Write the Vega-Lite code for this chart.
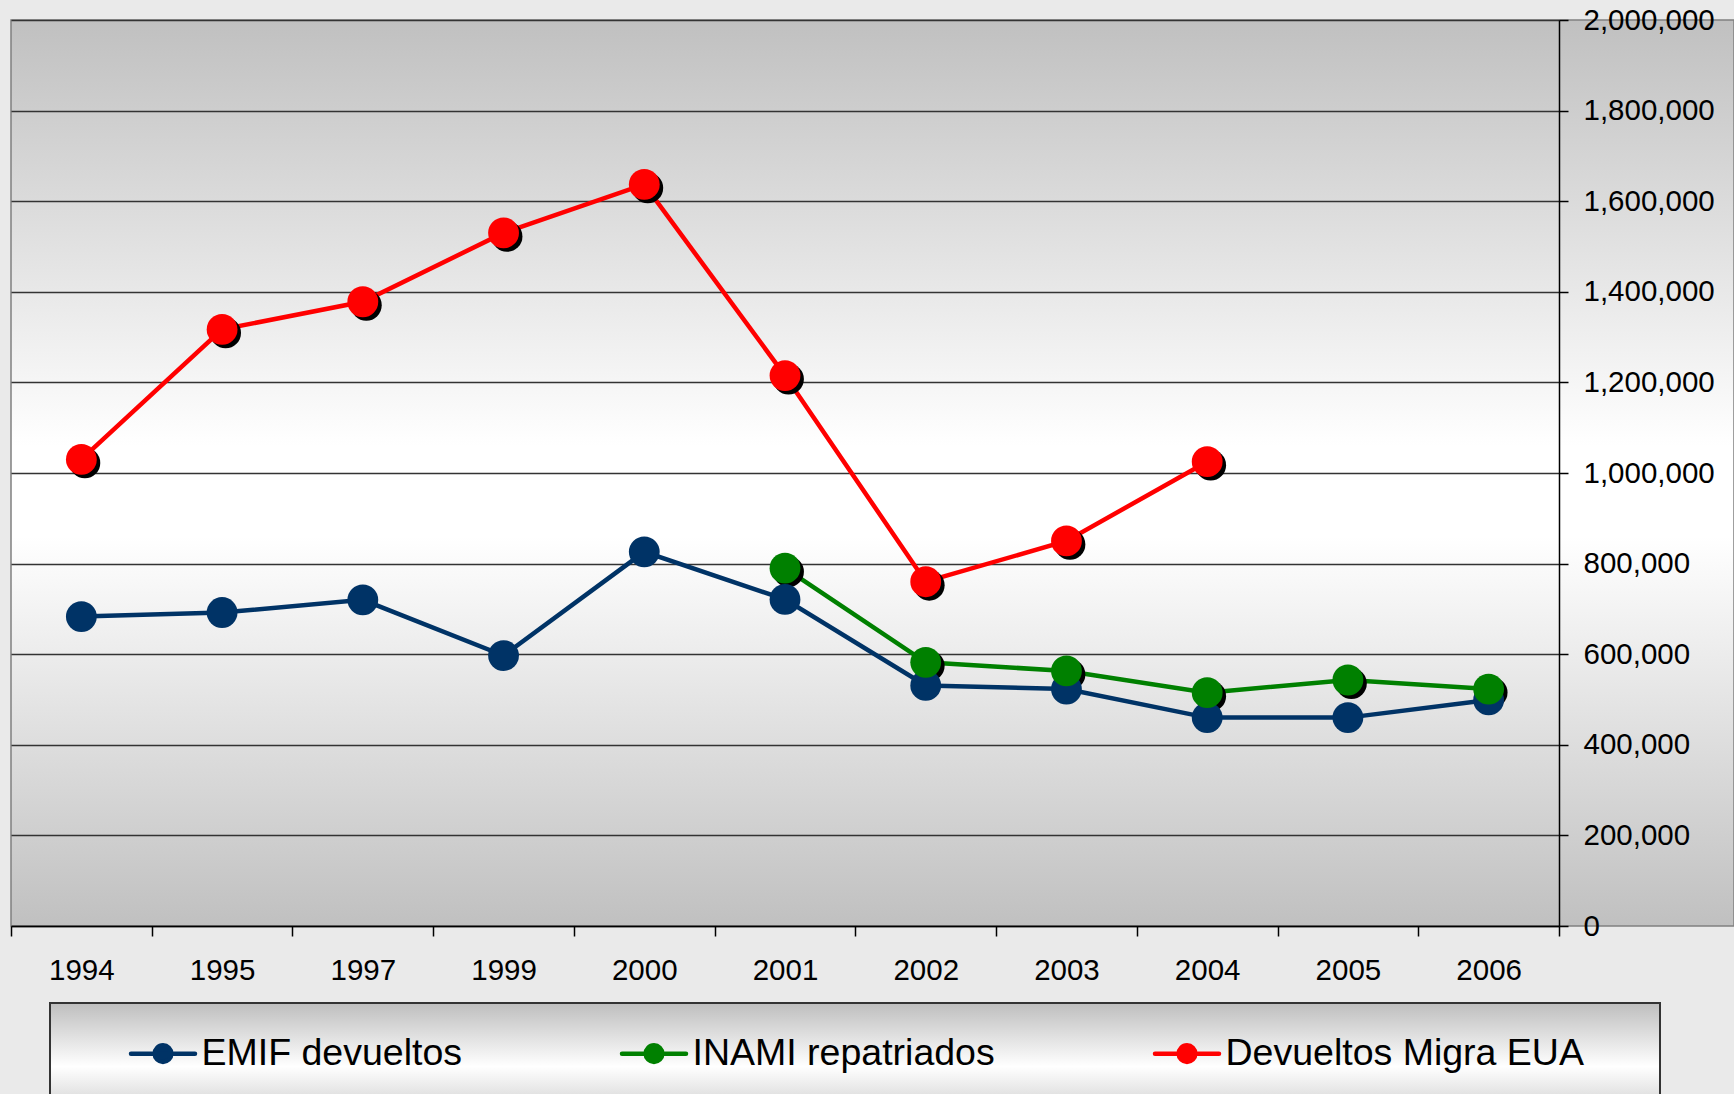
{
  "$schema": "https://vega.github.io/schema/vega-lite/v6.json",
  "width": 1723,
  "height": 906,
  "autosize": {"type": "none"},
  "padding": {"left": 11, "top": 20, "right": 0, "bottom": 168},
  "background": "#EAEAEA",
  "config": {
    "font": "Liberation Sans",
    "view": {
      "fill": {"gradient": "linear", "x1": 0, "y1": 0, "x2": 0, "y2": 1,
        "stops": [{"offset": 0, "color": "#C0C0C0"}, {"offset": 0.47, "color": "#FFFFFF"}, {"offset": 0.57, "color": "#FFFFFF"}, {"offset": 1, "color": "#C0C0C0"}]},
      "stroke": "#808080",
      "strokeWidth": 1.5
    }
  },
  "data": {"values": [
    {"year": "1994", "series": "EMIF devueltos", "value": 683000},
    {"year": "1995", "series": "EMIF devueltos", "value": 692000},
    {"year": "1997", "series": "EMIF devueltos", "value": 720000},
    {"year": "1999", "series": "EMIF devueltos", "value": 597000},
    {"year": "2000", "series": "EMIF devueltos", "value": 826000},
    {"year": "2001", "series": "EMIF devueltos", "value": 721000},
    {"year": "2002", "series": "EMIF devueltos", "value": 531000},
    {"year": "2003", "series": "EMIF devueltos", "value": 523000},
    {"year": "2004", "series": "EMIF devueltos", "value": 460000},
    {"year": "2005", "series": "EMIF devueltos", "value": 460000},
    {"year": "2006", "series": "EMIF devueltos", "value": 499000},
    {"year": "2001", "series": "INAMI repatriados", "value": 790000},
    {"year": "2002", "series": "INAMI repatriados", "value": 582000},
    {"year": "2003", "series": "INAMI repatriados", "value": 563000},
    {"year": "2004", "series": "INAMI repatriados", "value": 515000},
    {"year": "2005", "series": "INAMI repatriados", "value": 543000},
    {"year": "2006", "series": "INAMI repatriados", "value": 523000},
    {"year": "1994", "series": "Devueltos Migra EUA", "value": 1030000},
    {"year": "1995", "series": "Devueltos Migra EUA", "value": 1317000},
    {"year": "1997", "series": "Devueltos Migra EUA", "value": 1378000},
    {"year": "1999", "series": "Devueltos Migra EUA", "value": 1530000},
    {"year": "2000", "series": "Devueltos Migra EUA", "value": 1637000},
    {"year": "2001", "series": "Devueltos Migra EUA", "value": 1215000},
    {"year": "2002", "series": "Devueltos Migra EUA", "value": 760000},
    {"year": "2003", "series": "Devueltos Migra EUA", "value": 850000},
    {"year": "2004", "series": "Devueltos Migra EUA", "value": 1025000}
  ]},
  "encoding": {
    "x": {
      "field": "year", "type": "ordinal",
      "scale": {"type": "band", "range": [0, 1548], "paddingInner": 0, "paddingOuter": 0},
      "axis": {
        "title": null, "grid": false, "tickBand": "extent", "labelAngle": 0,
        "domainColor": "#000000", "domainWidth": 1.5,
        "tickColor": "#000000", "tickWidth": 1.5, "tickSize": 10,
        "labelFont": "Liberation Sans", "labelFontSize": 29.5, "labelColor": "#000000", "labelPadding": 20
      }
    }
  },
  "layer": [
    {
      "mark": {"type": "line", "strokeWidth": 4.5},
      "encoding": {
        "y": {
          "field": "value", "type": "quantitative",
          "scale": {"domain": [0, 2000000], "nice": false},
          "axis": {
            "orient": "left", "title": null, "grid": true, "labels": false, "ticks": false, "domain": false,
            "values": [0, 200000, 400000, 600000, 800000, 1000000, 1200000, 1400000, 1600000, 1800000, 2000000],
            "gridColor": "#333333", "gridWidth": 1.5
          }
        },
        "color": {
          "field": "series", "type": "nominal",
          "scale": {"domain": ["EMIF devueltos", "INAMI repatriados", "Devueltos Migra EUA"], "range": ["#003366", "#008000", "#FF0000"]},
          "legend": {
            "orient": "none", "legendX": 39, "legendY": 983, "direction": "horizontal",
            "title": " ", "titleOrient": "left", "titleFontSize": 1, "titlePadding": 62.5,
            "padding": 16, "columnPadding": 150,
            "labelFont": "Liberation Sans", "labelFontSize": 37.5, "labelColor": "#000000", "labelOffset": 4, "labelLimit": 1000,
            "symbolType": "M-1,0L1,0M0.26,0A0.26,0.26,0,1,1,-0.26,0A0.26,0.26,0,1,1,0.26,0Z",
            "symbolSize": 4096, "symbolStrokeWidth": 4.5,
            "strokeColor": "#333333",
            "encode": {
              "symbols": {"update": {
                "fill": {"scale": "color", "field": "value"},
                "stroke": {"scale": "color", "field": "value"},
                "strokeCap": {"value": "round"},
                "opacity": {"value": 1},
                "shape": {"signal": "datum.value === 'Devueltos Migra EUA' ? 'M-1,0L1,0M0.26,0A0.26,0.26,0,1,1,-0.26,0A0.26,0.26,0,1,1,0.26,0ZM14,0M0,1.6' : 'M-1,0L1,0M0.26,0A0.26,0.26,0,1,1,-0.26,0A0.26,0.26,0,1,1,0.26,0ZM0,1.6'"}
              }},
              "legend": {"update": {"fill": {"value": {"gradient": "linear", "x1": 0, "y1": 0, "x2": 0, "y2": 1, "stops": [{"offset": 0, "color": "#BEBEBE"}, {"offset": 0.5, "color": "#FFFFFF"}, {"offset": 1, "color": "#BEBEBE"}]}}, "stroke": {"value": "#333333"}, "strokeWidth": {"value": 2}}}
            }
          }
        }
      }
    },
    {
      "transform": [{"filter": "datum.series !== 'EMIF devueltos'"}],
      "mark": {"type": "point", "filled": true, "size": 950, "color": "#000000", "opacity": 1, "xOffset": 3.5, "yOffset": 3.5},
      "encoding": {
        "y": {"field": "value", "type": "quantitative", "scale": {"domain": [0, 2000000], "nice": false}, "axis": null},
        "detail": {"field": "series", "type": "nominal"}
      }
    },
    {
      "mark": {"type": "point", "filled": true, "size": 950, "opacity": 1},
      "encoding": {
        "y": {
          "field": "value", "type": "quantitative",
          "scale": {"domain": [0, 2000000], "nice": false},
          "axis": {
            "orient": "right", "offset": -175, "title": null, "grid": false,
            "values": [0, 200000, 400000, 600000, 800000, 1000000, 1200000, 1400000, 1600000, 1800000, 2000000],
            "format": ",d",
            "domainColor": "#000000", "domainWidth": 1.5,
            "tickColor": "#000000", "tickWidth": 1.5, "tickSize": 9,
            "labelFont": "Liberation Sans", "labelFontSize": 29.5, "labelColor": "#000000", "labelPadding": 15
          }
        },
        "color": {
          "field": "series", "type": "nominal",
          "scale": {"domain": ["EMIF devueltos", "INAMI repatriados", "Devueltos Migra EUA"], "range": ["#003366", "#008000", "#FF0000"]},
          "legend": {
            "orient": "none", "legendX": 39, "legendY": 983, "direction": "horizontal",
            "title": " ", "titleOrient": "left", "titleFontSize": 1, "titlePadding": 62.5,
            "padding": 16, "columnPadding": 150,
            "labelFont": "Liberation Sans", "labelFontSize": 37.5, "labelColor": "#000000", "labelOffset": 4, "labelLimit": 1000,
            "symbolType": "M-1,0L1,0M0.26,0A0.26,0.26,0,1,1,-0.26,0A0.26,0.26,0,1,1,0.26,0Z",
            "symbolSize": 4096, "symbolStrokeWidth": 4.5,
            "strokeColor": "#333333",
            "encode": {
              "symbols": {"update": {
                "fill": {"scale": "color", "field": "value"},
                "stroke": {"scale": "color", "field": "value"},
                "strokeCap": {"value": "round"},
                "opacity": {"value": 1},
                "shape": {"signal": "datum.value === 'Devueltos Migra EUA' ? 'M-1,0L1,0M0.26,0A0.26,0.26,0,1,1,-0.26,0A0.26,0.26,0,1,1,0.26,0ZM14,0M0,1.6' : 'M-1,0L1,0M0.26,0A0.26,0.26,0,1,1,-0.26,0A0.26,0.26,0,1,1,0.26,0ZM0,1.6'"}
              }},
              "legend": {"update": {"fill": {"value": {"gradient": "linear", "x1": 0, "y1": 0, "x2": 0, "y2": 1, "stops": [{"offset": 0, "color": "#BEBEBE"}, {"offset": 0.5, "color": "#FFFFFF"}, {"offset": 1, "color": "#BEBEBE"}]}}, "stroke": {"value": "#333333"}, "strokeWidth": {"value": 2}}}
            }
          }
        }
      }
    }
  ],
  "resolve": {"axis": {"y": "independent"}}
}
